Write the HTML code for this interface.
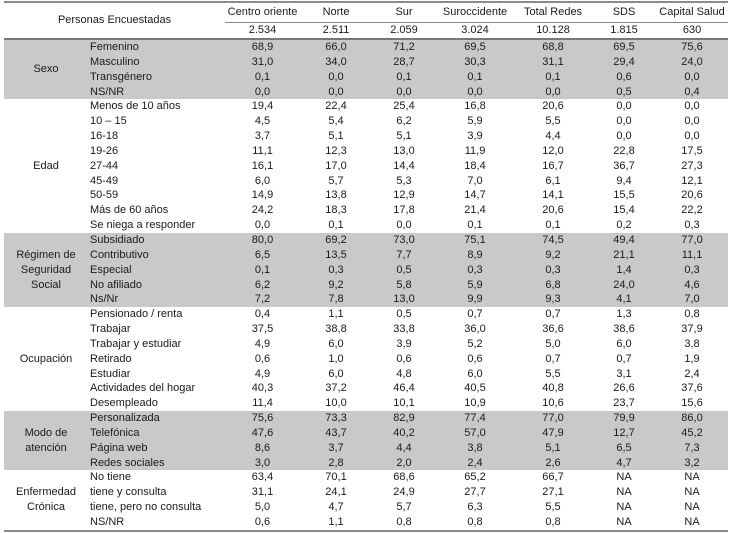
<!DOCTYPE html>
<html><head><meta charset="utf-8">
<style>
body{margin:0;background:#fff;width:737px;height:533px;overflow:hidden;font-family:"Liberation Sans",Arial,sans-serif;font-size:11px;color:#1a1a1a}
table{position:absolute;left:4px;top:1px;border-collapse:collapse;table-layout:fixed;width:724px}
td{padding:0;text-align:center;white-space:nowrap;height:14.85px;line-height:14.85px;overflow:visible}
td.l{text-align:left;padding-left:2px}
tr.g td{background:#c9c9c9}
tr.h1 td{height:19px;line-height:19px}
tr.h2 td{height:15px;line-height:15px}
.top td{border-top:2px solid #8a8a8a}
.u{border-bottom:1px solid #8a8a8a}
.h2 td{border-bottom:2px solid #777}
.last td, td.lastg{border-bottom:2px solid #8a8a8a}
td.grp{line-height:15px;white-space:nowrap}
</style></head><body>
<table>
<colgroup><col style="width:84px"><col style="width:137px"><col style="width:75px"><col style="width:72px"><col style="width:64px"><col style="width:78px"><col style="width:78px"><col style="width:64px"><col style="width:72px"></colgroup>
<tbody id="tb">
<tr class="h1 top"><td colspan="2" rowspan="2" style="border-bottom:2px solid #777">Personas Encuestadas</td><td class="u">Centro oriente</td><td class="u">Norte</td><td class="u">Sur</td><td class="u">Suroccidente</td><td class="u">Total Redes</td><td class="u">SDS</td><td class="u">Capital Salud</td></tr>
<tr class="h2"><td>2.534</td><td>2.511</td><td>2.059</td><td>3.024</td><td>10.128</td><td>1.815</td><td>630</td></tr>
</tbody></table>
<script>
const groups=[
["Sexo",true,[["Femenino","68,9","66,0","71,2","69,5","68,8","69,5","75,6"],["Masculino","31,0","34,0","28,7","30,3","31,1","29,4","24,0"],["Transgénero","0,1","0,0","0,1","0,1","0,1","0,6","0,0"],["NS/NR","0,0","0,0","0,0","0,0","0,0","0,5","0,4"]]],
["Edad",false,[["Menos de 10 años","19,4","22,4","25,4","16,8","20,6","0,0","0,0"],["10 – 15","4,5","5,4","6,2","5,9","5,5","0,0","0,0"],["16-18","3,7","5,1","5,1","3,9","4,4","0,0","0,0"],["19-26","11,1","12,3","13,0","11,9","12,0","22,8","17,5"],["27-44","16,1","17,0","14,4","18,4","16,7","36,7","27,3"],["45-49","6,0","5,7","5,3","7,0","6,1","9,4","12,1"],["50-59","14,9","13,8","12,9","14,7","14,1","15,5","20,6"],["Más de 60 años","24,2","18,3","17,8","21,4","20,6","15,4","22,2"],["Se niega a responder","0,0","0,1","0,0","0,1","0,1","0,2","0,3"]]],
["Régimen de|Seguridad|Social",true,[["Subsidiado","80,0","69,2","73,0","75,1","74,5","49,4","77,0"],["Contributivo","6,5","13,5","7,7","8,9","9,2","21,1","11,1"],["Especial","0,1","0,3","0,5","0,3","0,3","1,4","0,3"],["No afiliado","6,2","9,2","5,8","5,9","6,8","24,0","4,6"],["Ns/Nr","7,2","7,8","13,0","9,9","9,3","4,1","7,0"]]],
["Ocupación",false,[["Pensionado / renta","0,4","1,1","0,5","0,7","0,7","1,3","0,8"],["Trabajar","37,5","38,8","33,8","36,0","36,6","38,6","37,9"],["Trabajar y estudiar","4,9","6,0","3,9","5,2","5,0","6,0","3,8"],["Retirado","0,6","1,0","0,6","0,6","0,7","0,7","1,9"],["Estudiar","4,9","6,0","4,8","6,0","5,5","3,1","2,4"],["Actividades del hogar","40,3","37,2","46,4","40,5","40,8","26,6","37,6"],["Desempleado","11,4","10,0","10,1","10,9","10,6","23,7","15,6"]]],
["Modo de|atención",true,[["Personalizada","75,6","73,3","82,9","77,4","77,0","79,9","86,0"],["Telefónica","47,6","43,7","40,2","57,0","47,9","12,7","45,2"],["Página web","8,6","3,7","4,4","3,8","5,1","6,5","7,3"],["Redes sociales","3,0","2,8","2,0","2,4","2,6","4,7","3,2"]]],
["Enfermedad|Crónica",false,[["No tiene","63,4","70,1","68,6","65,2","66,7","NA","NA"],["tiene y consulta","31,1","24,1","24,9","27,7","27,1","NA","NA"],["tiene, pero no consulta","5,0","4,7","5,7","6,3","5,5","NA","NA"],["NS/NR","0,6","1,1","0,8","0,8","0,8","NA","NA"]]]
];
const tb=document.getElementById('tb');
groups.forEach((g,gi)=>{
  g[2].forEach((r,ri)=>{
    const tr=document.createElement('tr');
    
    
    if(g[1])tr.className='g';
    if(gi===groups.length-1&&ri===g[2].length-1)tr.className+=' last';
    if(ri===0){
      const td=document.createElement('td');
      td.rowSpan=g[2].length;td.className='grp'+(gi===groups.length-1?' lastg':'');
      g[0].split('|').forEach((p,pi)=>{if(pi)td.appendChild(document.createElement('br'));td.appendChild(document.createTextNode(p));});
      
      
      tr.appendChild(td);
    }
    r.forEach((v,ci)=>{
      const td=document.createElement('td');
      td.textContent=v;
      if(ci===0)td.className='l';
      
      
      tr.appendChild(td);
    });
    tb.appendChild(tr);
  });
});
</script>
</body></html>
